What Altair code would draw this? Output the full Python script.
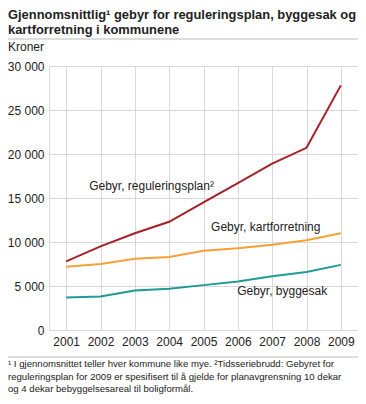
import altair as alt
import pandas as pd

years = [2001, 2002, 2003, 2004, 2005, 2006, 2007, 2008, 2009]
regulering = [7800, 9500, 11000, 12300, 14500, 16700, 18900, 20700, 27800]
kart = [7200, 7500, 8100, 8300, 9000, 9300, 9700, 10200, 11000]
bygg = [3700, 3800, 4500, 4700, 5100, 5500, 6100, 6600, 7400]

series = ["Gebyr, reguleringsplan", "Gebyr, kartforretning", "Gebyr, byggesak"]
colors = ["#a8202a", "#f7a035", "#1f9a97"]

label_texts = ["Gebyr, reguleringsplan²", "Gebyr, kartforretning", "Gebyr, byggesak"]
label_x = [2001.67, 2005.22, 2005.98]
label_y = [16400, 11700, 4450]

title_lines = ["Gjennomsnittlig¹ gebyr for reguleringsplan, byggesak og",
               "kartforretning i kommunene"]
unit_label = "Kroner"
foot_lines = [
    "¹ I gjennomsnittet teller hver kommune like mye. ²Tidsseriebrudd: Gebyret for",
    "reguleringsplan for 2009 er spesifisert til å gjelde for planavgrensning 10 dekar",
    "og 4 dekar bebyggelsesareal til boligformål.",
]

rows = []
for name, vals in zip(series, [regulering, kart, bygg]):
    for yr, v in zip(years, vals):
        rows.append({"year": yr, "value": v, "series": name})
df = pd.DataFrame(rows)

FONT = "Liberation Sans"
W, H = 309, 264

xscale = alt.Scale(domain=[2000.5, 2009.5], nice=False)
yscale = alt.Scale(domain=[0, 30000], nice=False)

x_axis = alt.Axis(values=years, format="d", title=None, grid=True,
                  ticks=False, domain=False, labelPadding=6,
                  labelOverlap=False, labelFlush=False,
                  labelFontSize=12, labelColor="#222", labelFont=FONT,
                  gridColor="#d9d9d9")
y_axis = alt.Axis(values=list(range(0, 30001, 5000)), title=None,
                  grid=True, ticks=False, domain=True,
                  domainColor="#d9d9d9", labelOverlap=False, labelFlush=False,
                  labelExpr="replace(format(datum.value, ',d'), ',', ' ')",
                  labelPadding=5, labelFontSize=12, labelColor="#222",
                  labelFont=FONT, gridColor="#d9d9d9")

lines = alt.Chart(df).mark_line(strokeWidth=2).encode(
    x=alt.X("year:Q", scale=xscale, axis=x_axis),
    y=alt.Y("value:Q", scale=yscale, axis=y_axis),
    color=alt.Color("series:N", scale=alt.Scale(domain=series, range=colors),
                    legend=None),
)

lab_df = pd.DataFrame({"t": label_texts, "x": label_x, "y": label_y})
labels = alt.Chart(lab_df).mark_text(align="left", baseline="middle",
                                     fontSize=12, font=FONT, color="#222").encode(
    x=alt.X("x:Q", scale=xscale, axis=x_axis),
    y=alt.Y("y:Q", scale=yscale, axis=y_axis), text="t:N")


def txt(s, y, size, bold=False):
    return alt.Chart(pd.DataFrame({"t": [s]})).mark_text(
        align="left", baseline="alphabetic", fontSize=size, font=FONT,
        fontWeight="bold" if bold else "normal", color="#222").encode(
        x=alt.value(-41), y=alt.value(y), text="t:N")


def rule(y):
    return alt.Chart(pd.DataFrame({"a": [0]})).mark_rule(
        color="#bbbbbb", strokeWidth=1).encode(
        x=alt.value(-41), x2=alt.value(W), y=alt.value(y))


layers = [lines, labels,
          txt(title_lines[0], -47.5, 12.9, True),
          txt(title_lines[1], -32, 12.9, True),
          rule(-27),
          txt(unit_label, -15, 12),
          rule(291)]
for i, s in enumerate(foot_lines):
    layers.append(txt(s, 301 + 12.5 * i, 9.6))

chart = alt.layer(*layers).properties(
    width=W, height=H,
    autosize=alt.AutoSizeParams(type="none"),
    padding={"left": 41, "top": 58, "right": 0, "bottom": 65},
).configure_view(stroke=None).configure_axisX(labelOverlap=False)

chart.save("out.html", embed_options={"renderer": "svg", "actions": False})
